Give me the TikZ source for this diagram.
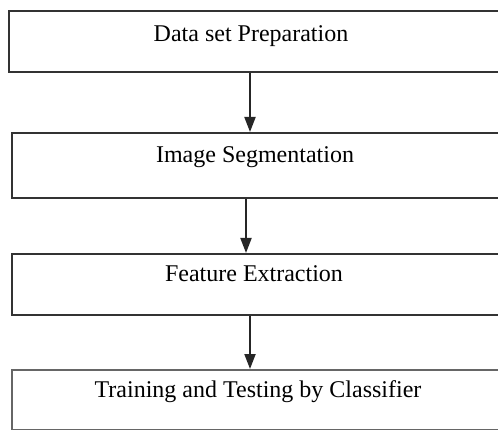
\documentclass[tikz,border=0pt]{standalone}
\usepackage{fontspec}
\setmainfont{Liberation Serif}
\usetikzlibrary{arrows.meta}
\begin{document}
\begin{tikzpicture}[x=1pt,y=-1pt,
  boxstyle/.style={draw=black!80, line width=2pt, rectangle, inner sep=0pt, anchor=north west, minimum width=510pt},
  lbl/.style={anchor=base, inner sep=0pt, font=\fontsize{24}{28}\selectfont},
  arr/.style={draw=black!85, line width=2pt, -{Triangle[width=11pt,length=15pt]}}]
\useasboundingbox (0,0) rectangle (498,430);
\clip (0,0) rectangle (498,430);
\node[boxstyle, minimum height=61pt] (b1) at (8,10) {};
\node[boxstyle, minimum height=65pt] (b2) at (11,132) {};
\node[boxstyle, minimum height=61pt] (b3) at (11,253) {};
\node[boxstyle, minimum height=60pt, draw=black!60] (b4) at (11,369) {};
\node[lbl] (t1) at (251,42) {Data set Preparation};
\node[lbl] (t2) at (255,163) {Image Segmentation};
\node[lbl] (t3) at (254,282) {Feature Extraction};
\node[lbl] (t4) at (258,397) {Training and Testing by Classifier};
\coordinate (c1) at (250,0);
\coordinate (c2) at (246,0);
\coordinate (c3) at (250,0);
\draw[arr] (b1.south -| c1) -- (b2.north -| c1);
\draw[arr] (b2.south -| c2) -- (b3.north -| c2);
\draw[arr] (b3.south -| c3) -- (b4.north -| c3);
\end{tikzpicture}
\end{document}
